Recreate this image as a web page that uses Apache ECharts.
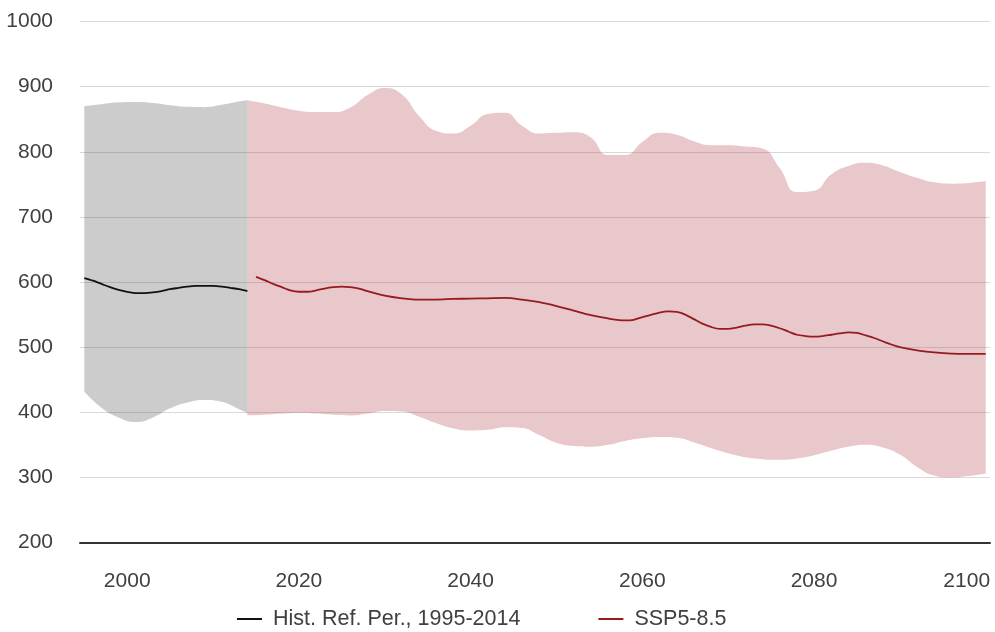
<!DOCTYPE html>
<html>
<head>
<meta charset="utf-8">
<script src="https://cdn.jsdelivr.net/npm/echarts@6/dist/echarts.min.js"></script>
<style>
  html, body { margin: 0; padding: 0; background: #fff; }
  #chart { width: 995px; height: 632px; }
</style>
</head>
<body>
<div id="chart"></div>
<script>
// Year categories on the x axis (1995–2100)
const years = [];
for (let y = 1995; y <= 2100; y++) years.push(String(y));

// Tick labels
const xTickLabels = ['2000', '2020', '2040', '2060', '2080', '2100'];
const yTicks = [200, 300, 400, 500, 600, 700, 800, 900, 1000];

// Historical reference period: ensemble range
const histBandYears = [1995, 1997, 1999, 2001, 2003, 2005, 2007, 2009, 2011, 2013, 2014];
const histUpper = [870, 873, 876, 876.5, 875, 871.5, 869, 868.5, 872, 877, 879];
const histLower = [432, 407, 392, 385, 392, 406, 415, 419, 416, 405, 399];

// Historical reference period: ensemble median
const histLineYears = [1995, 1996, 1997, 1998, 1999, 2000, 2001, 2002, 2003, 2004, 2005, 2006, 2007, 2008, 2009, 2010, 2011, 2012, 2013, 2014];
const histLine = [606, 602, 597, 592, 588, 585, 583, 583, 584, 586, 589, 591, 593, 594, 594, 594, 593, 591, 589, 586];

// SSP5-8.5: ensemble range
const sspBandYears = [2014, 2016, 2018, 2020, 2022, 2024, 2026, 2028, 2030, 2032, 2034, 2036, 2038, 2040,
  2042, 2044, 2046, 2048, 2050, 2052, 2054, 2056, 2058, 2060, 2062, 2064, 2066, 2068, 2070, 2072, 2074,
  2076, 2078, 2080, 2082, 2084, 2086, 2088, 2090, 2092, 2094, 2096, 2098, 2100];
const sspUpper = [879, 874, 868, 863, 861, 861, 868, 887, 898, 888, 855, 832, 828, 840,
  858, 860, 840, 828, 829, 830, 822, 795, 795, 815, 829, 826, 816, 810, 810, 808, 805,
  775, 738, 740, 765, 778, 783, 779, 769, 760, 753, 751, 752, 755];
const sspLower = [395, 396, 398, 399, 398, 396, 395, 398, 402, 401, 393, 383, 375, 372,
  373, 377, 376, 365, 353, 348, 347, 350, 356, 360, 362, 361, 354, 345, 337, 331, 328,
  327, 329, 334, 341, 347, 350, 346, 335, 316, 303, 300, 302, 306];

// SSP5-8.5: ensemble median
const sspLineYears = [2015, 2016, 2017, 2018, 2019, 2020, 2021, 2022, 2023, 2024, 2025, 2026, 2027, 2028,
  2030, 2032, 2034, 2036, 2038, 2040, 2042, 2044, 2046, 2048, 2050, 2052, 2054, 2056, 2058, 2059, 2060,
  2062, 2063, 2064, 2065, 2066, 2067, 2068, 2069, 2070, 2071, 2072, 2073, 2074, 2075, 2076, 2077, 2078,
  2079, 2080, 2081, 2082, 2083, 2084, 2085, 2086, 2087, 2088, 2089, 2090, 2092, 2094, 2096, 2098, 2100];
const sspLine = [608, 603, 597, 592, 587, 585, 585, 587, 590, 592, 593, 592, 590, 586,
  579, 575, 573, 573, 574, 574.5, 575, 575.5, 573, 569, 563, 556, 549, 544, 541, 542, 546,
  553, 555, 554, 550, 543, 536, 531, 528, 528, 530, 533, 535, 535, 533, 529, 524, 519,
  517, 516, 517, 519, 521, 522.5, 522, 518, 514, 509, 504, 500, 495, 492, 490, 489.5, 489.5];

const HIST_NAME = 'Hist. Ref. Per., 1995-2014';
const SSP_NAME = 'SSP5-8.5';
const HIST_COLOR = '#111111';
const SSP_COLOR = '#961a1e';
const TEXT_COLOR = '#404040';
const FONT = '"Liberation Sans", Arial, Helvetica, sans-serif';

const pairs = (xs, vs) => xs.map((x, i) => [String(x), vs[i]]);
const widths = (xs, hi, lo) => xs.map((x, i) => [String(x), hi[i] - lo[i]]);

function bandSeries(id, xs, hi, lo, fill) {
  return [
    {
      name: id + '-low', type: 'line', stack: id, data: pairs(xs, lo),
      smooth: 0.5, symbol: 'none', silent: true,
      lineStyle: { opacity: 0 }, z: 1
    },
    {
      name: id + '-range', type: 'line', stack: id, data: widths(xs, hi, lo),
      smooth: 0.5, symbol: 'none', silent: true,
      lineStyle: { opacity: 0 }, areaStyle: { color: fill, opacity: 1 }, z: 1
    }
  ];
}

const chart = echarts.init(document.getElementById('chart'), null, { renderer: 'canvas' });

chart.setOption({
  animation: false,
  backgroundColor: '#ffffff',
  textStyle: { fontFamily: FONT },
  grid: { left: 80, right: 5, top: 21.5, bottom: 89.5, containLabel: false },
  legend: {
    left: 237, top: 608, padding: 0,
    itemGap: 78, itemWidth: 25, itemHeight: 2,
    icon: 'rect',
    selectedMode: false,
    textStyle: { fontSize: 21.5, color: TEXT_COLOR, fontFamily: FONT, padding: [0, 0, 0, 6] },
    data: [
      { name: HIST_NAME, itemStyle: { color: HIST_COLOR } },
      { name: SSP_NAME, itemStyle: { color: SSP_COLOR } }
    ]
  },
  xAxis: {
    type: 'category',
    data: years,
    boundaryGap: true,
    axisLine: { show: true, lineStyle: { color: '#333333', width: 2 } },
    axisTick: { show: false },
    splitLine: { show: false },
    axisLabel: {
      interval: (idx, val) => xTickLabels.indexOf(val) !== -1,
      margin: 28,
      fontSize: 21, color: TEXT_COLOR, fontFamily: FONT,
      formatter: (val) => val === xTickLabels[xTickLabels.length - 1] ? '{last|' + val + '}' : val,
      rich: { last: { fontSize: 21, color: TEXT_COLOR, fontFamily: FONT, padding: [0, 38, 0, 0] } }
    }
  },
  yAxis: {
    type: 'value',
    min: yTicks[0], max: yTicks[yTicks.length - 1], interval: 100,
    axisLine: { show: false },
    axisTick: { show: false },
    splitLine: { show: true, lineStyle: { color: '#d9d9d9', width: 1 } },
    axisLabel: { margin: 27, fontSize: 21, color: TEXT_COLOR, fontFamily: FONT, formatter: (v) => String(v) }
  },
  series: [
    ...bandSeries('hist', histBandYears, histUpper, histLower, 'rgba(85,85,85,0.30)'),
    ...bandSeries('ssp', sspBandYears, sspUpper, sspLower, 'rgba(178,72,78,0.30)'),
    {
      name: HIST_NAME, type: 'line', data: pairs(histLineYears, histLine),
      smooth: 0.3, symbol: 'none', color: HIST_COLOR,
      lineStyle: { color: HIST_COLOR, width: 1.8 }, z: 3
    },
    {
      name: SSP_NAME, type: 'line', data: pairs(sspLineYears, sspLine),
      smooth: 0.3, symbol: 'none', color: SSP_COLOR,
      lineStyle: { color: SSP_COLOR, width: 1.8 }, z: 3
    }
  ]
});
</script>
</body>
</html>
